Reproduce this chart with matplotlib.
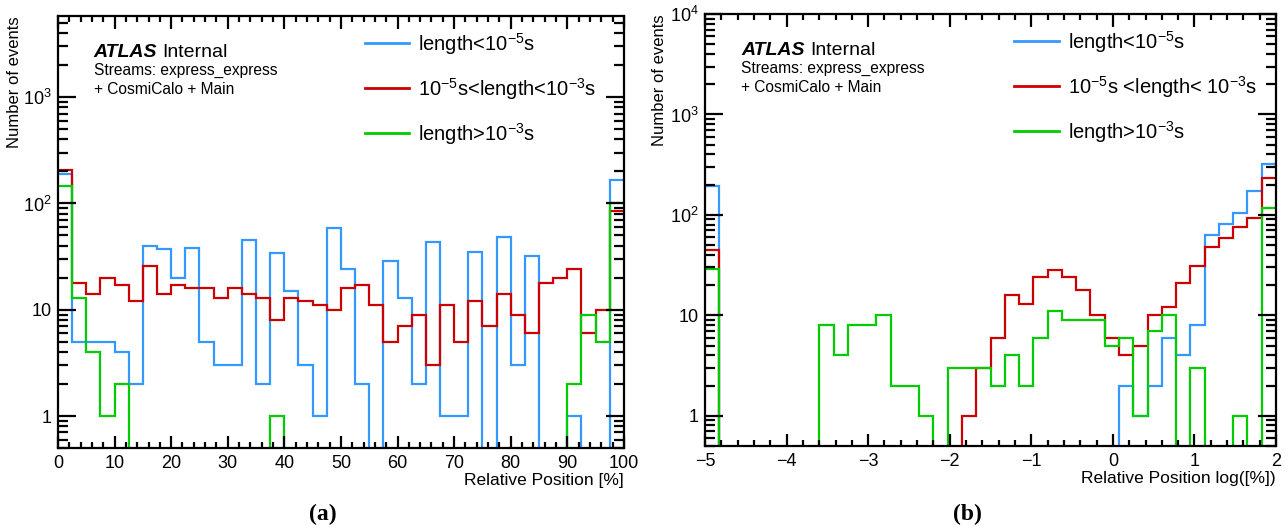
import numpy as np
import matplotlib
matplotlib.use('Agg')
import matplotlib.pyplot as plt
from matplotlib.ticker import LogLocator, FuncFormatter, MultipleLocator, NullFormatter

plt.rcParams['font.family'] = ['Liberation Sans', 'DejaVu Sans']
plt.rcParams['mathtext.fontset'] = 'custom'
plt.rcParams['mathtext.rm'] = 'Liberation Sans'
plt.rcParams['mathtext.it'] = 'Liberation Sans:italic'
plt.rcParams['mathtext.bf'] = 'Liberation Sans:bold'

# Colours of the three length classes
c_short = '#3399ff'
c_mid = '#cc0000'
c_long = '#00cc00'

labels_a = [r'length<10$^{-5}$s', r'10$^{-5}$s<length<10$^{-3}$s', r'length>10$^{-3}$s']
labels_b = [r'length<10$^{-5}$s', r'10$^{-5}$s <length< 10$^{-3}$s', r'length>10$^{-3}$s']

# (a) relative position [%], 40 bins from 0 to 100
range_a = (0, 100)
short_a = [190, 5, 5, 5, 4, 2, 40, 37, 20, 38,
           5, 3, 3, 45, 2, 34, 15, 3, 1, 59,
           24, 2, 0, 29, 13, 2, 43, 1, 1, 35,
           0, 48, 3, 32, 0, 0, 1, 0, 0, 168]
mid_a = [205, 18, 14, 20, 17, 12, 26, 14, 17, 16,
         16, 13, 16, 14, 13, 8, 13, 12, 11, 10,
         16, 17, 11, 5, 7, 9, 3, 11, 5, 12,
         7, 14, 9, 6, 18, 20, 24, 6, 10, 85]
long_a = [146, 13, 4, 1, 2, 0, 0, 0, 0, 0,
          0, 0, 0, 0, 0, 1, 0, 0, 0, 0,
          0, 0, 0, 0, 0, 0, 0, 0, 0, 0,
          0, 0, 0, 0, 0, 0, 2, 9, 5, 100]

# (b) relative position log([%]), 40 bins from -5 to 2
range_b = (-5, 2)
short_b = [194, 0, 0, 0, 0, 0, 0, 0, 0, 0,
           0, 0, 0, 0, 0, 0, 0, 0, 0, 0,
           0, 0, 0, 0, 0, 0, 0, 0, 0, 2,
           1, 2, 6, 4, 8, 63, 82, 104, 171, 324]
mid_b = [45, 0, 0, 0, 0, 0, 0, 0, 0, 0,
         0, 0, 0, 0, 0, 0, 0, 0, 1, 3,
         6, 16, 13, 24, 28, 24, 18, 10, 6, 4,
         5, 10, 12, 21, 31, 48, 59, 76, 93, 233]
long_b = [29, 0, 0, 0, 0, 0, 0, 0, 8, 4,
          8, 8, 10, 2, 2, 1, 0, 3, 3, 3,
          2, 4, 2, 6, 11, 9, 9, 9, 5, 6,
          1, 7, 10, 0, 3, 0, 0, 1, 0, 117]


def root_log_label(v, pos):
    if v == 1:
        return '1'
    if v == 10:
        return '10'
    return r'10$^{%d}$' % int(round(np.log10(v)))


def draw_panel(ax, rng, series, labels, ymax, xmajor, xminor, xlabel, ylab_x):
    edges = np.linspace(rng[0], rng[1], len(series[0][0]) + 1)
    for vals, col in series:
        v = np.asarray(vals, dtype=float)
        v = np.where(v > 0, v, 1e-3)  # empty bins drop below the axis
        ax.stairs(v, edges, baseline=None, color=col, lw=1.6)

    ax.set_yscale('log')
    ax.set_xlim(*rng)
    ax.set_ylim(0.5, ymax)
    ax.xaxis.set_major_locator(MultipleLocator(xmajor))
    ax.xaxis.set_minor_locator(MultipleLocator(xminor))
    ax.yaxis.set_major_locator(LogLocator(base=10))
    ax.yaxis.set_minor_locator(LogLocator(base=10, subs=np.arange(2, 10)))
    ax.yaxis.set_major_formatter(FuncFormatter(root_log_label))
    ax.yaxis.set_minor_formatter(NullFormatter())
    if xmajor == 1:
        ax.xaxis.set_major_formatter(FuncFormatter(lambda v, p: ('%d' % v).replace('-', '\u2212')))

    for sp in ax.spines.values():
        sp.set_linewidth(1.6)
    ax.tick_params(axis='both', which='both', direction='in', top=True, right=True,
                   width=1.6, labelsize=13)
    ax.tick_params(axis='x', which='major', length=9, pad=5)
    ax.tick_params(axis='x', which='minor', length=4.5)
    ax.tick_params(axis='y', which='major', length=13, pad=4.5)
    ax.tick_params(axis='y', which='minor', length=7)

    ax.set_xlabel(xlabel, loc='right', fontsize=12.5, labelpad=1)
    ax.set_ylabel('Number of events', loc='top', fontsize=12)
    ax.yaxis.set_label_coords(ylab_x, 1.0)

    leg = ax.legend(labels, loc='upper left', bbox_to_anchor=(0.51, 1.008), frameon=False,
                    fontsize=14.5, handlelength=2.2, handletextpad=0.45, labelspacing=0.95)
    for h in leg.get_lines():
        h.set_linewidth(2.0)

    atlas = ax.text(0.063, 0.906, 'ATLAS', transform=ax.transAxes, fontsize=14,
                    fontweight='bold', fontstyle='italic', va='baseline')
    ax.annotate('Internal', xy=(1, 0), xycoords=atlas, xytext=(4, 0),
                textcoords='offset points', fontsize=14, va='bottom')
    ax.text(0.063, 0.873, 'Streams: express_express', transform=ax.transAxes,
            fontsize=11.2, va='center')
    ax.text(0.063, 0.829, '+ CosmiCalo + Main', transform=ax.transAxes,
            fontsize=11.2, va='center')


fig = plt.figure(figsize=(12.88, 5.29), dpi=100)
ax_a = fig.add_axes([0.0450, 0.1531, 0.4394, 0.8166])
ax_b = fig.add_axes([0.5474, 0.1569, 0.4433, 0.8166])

draw_panel(ax_a, range_a, [(short_a, c_short), (mid_a, c_mid), (long_a, c_long)],
           labels_a, 5800, 10, 2, 'Relative Position [%]', -0.063)
draw_panel(ax_b, range_b, [(short_b, c_short), (mid_b, c_mid), (long_b, c_long)],
           labels_b, 1e4, 1, 0.2, 'Relative Position log([%])', -0.066)

fig.text(0.251, 0.027, '(a)', fontsize=17, fontweight='bold', family='Liberation Serif',
         ha='center', va='center')
fig.text(0.751, 0.027, '(b)', fontsize=17, fontweight='bold', family='Liberation Serif',
         ha='center', va='center')

fig.savefig('out.png', dpi=100)
